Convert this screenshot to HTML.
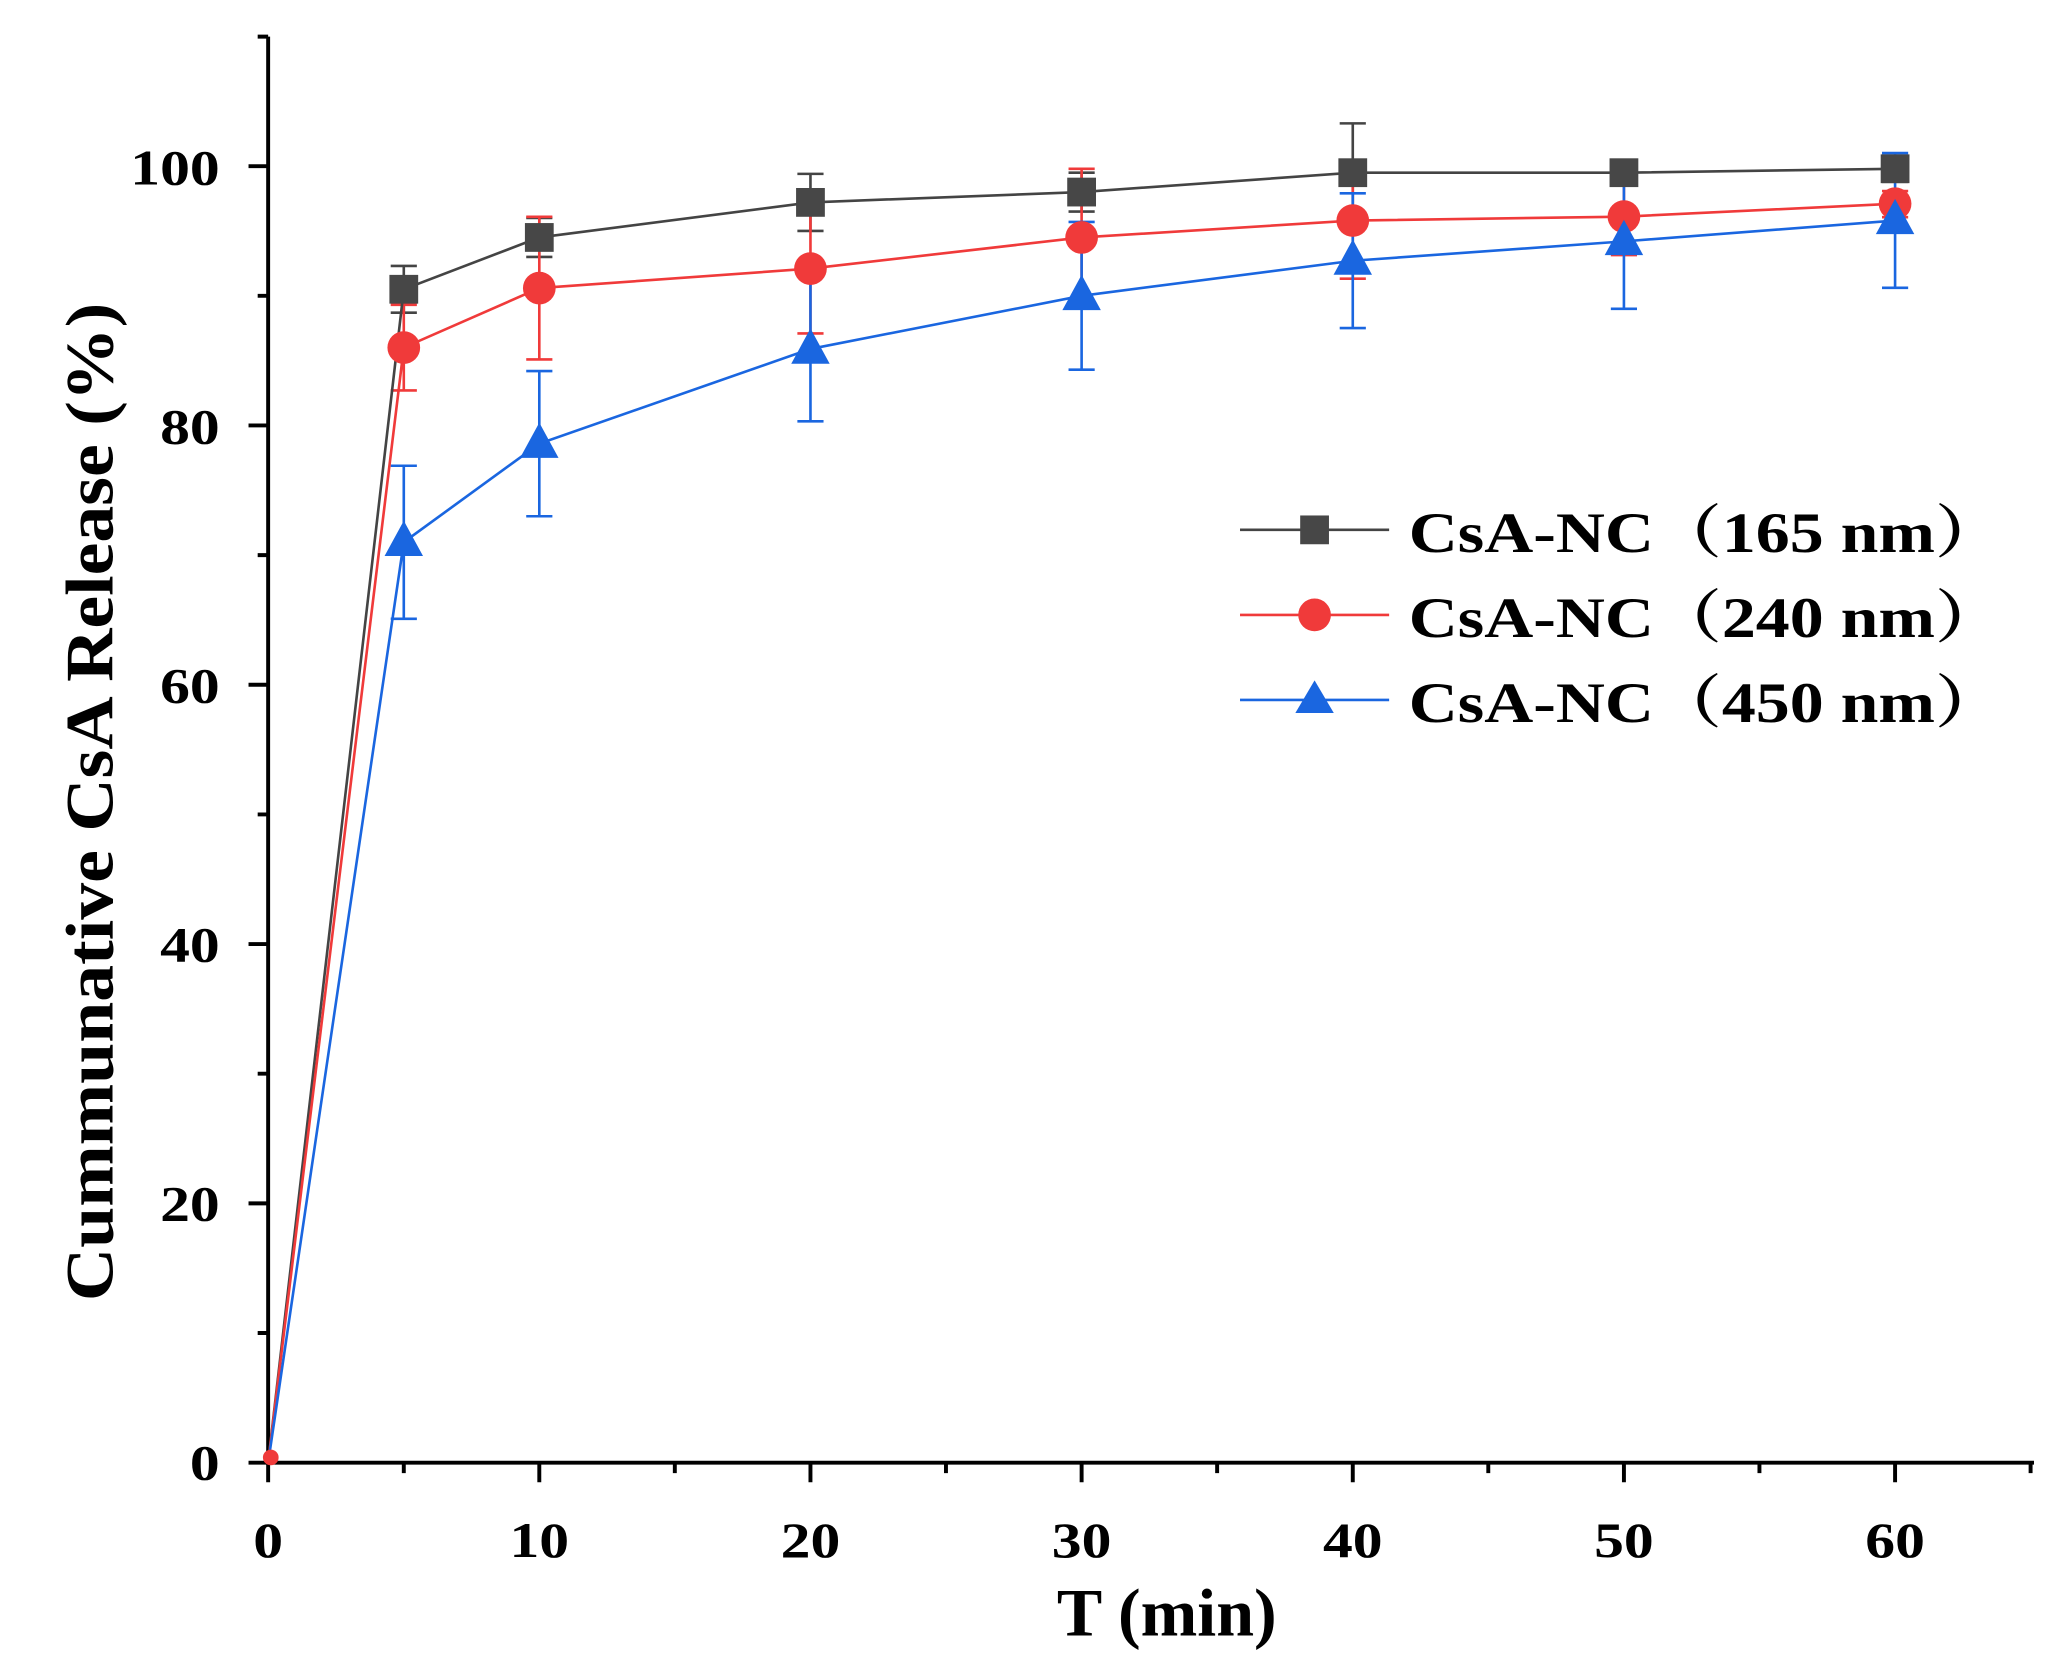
<!DOCTYPE html>
<html><head><meta charset="utf-8"><style>
html,body{margin:0;padding:0;background:#fff}
svg{display:block}
text{font-family:"Liberation Serif","Noto Serif CJK SC",serif;font-weight:bold;fill:#000}
</style></head><body>
<svg width="2051" height="1672" viewBox="0 0 1568 1278" preserveAspectRatio="none" xmlns="http://www.w3.org/2000/svg">
<rect width="1568" height="1278" fill="#fff"/>
<g stroke="#000" stroke-width="3" fill="none">
<path d="M205,28 V1118 H1555"/>
<path d="M190,1118H205M190,919.8H205M190,721.6H205M190,523.4H205M190,325.2H205M190,127H205"/>
<path d="M197,1018.9H205M197,820.7H205M197,622.5H205M197,424.3H205M197,226.1H205M197,28H205"/>
<path d="M205,1118V1133M412.3,1118V1133M619.6,1118V1133M826.9,1118V1133M1034.2,1118V1133M1241.5,1118V1133M1448.8,1118V1133"/>
<path d="M308.7,1118V1126M515.9,1118V1126M723.2,1118V1126M930.5,1118V1126M1137.8,1118V1126M1345.1,1118V1126M1552.4,1118V1126"/>
</g>
<g font-size="38" text-anchor="end">
<text transform="matrix(1.2,0,0,1,168,1131)">0</text>
<text transform="matrix(1.2,0,0,1,168,933)">20</text>
<text transform="matrix(1.2,0,0,1,168,735)">40</text>
<text transform="matrix(1.2,0,0,1,168,537)">60</text>
<text transform="matrix(1.2,0,0,1,168,339)">80</text>
<text transform="matrix(1.2,0,0,1,168,141)">100</text>
</g>
<g font-size="38" text-anchor="middle">
<text transform="matrix(1.2,0,0,1,205,1190)">0</text>
<text transform="matrix(1.2,0,0,1,412.3,1190)">10</text>
<text transform="matrix(1.2,0,0,1,619.6,1190)">20</text>
<text transform="matrix(1.2,0,0,1,826.9,1190)">30</text>
<text transform="matrix(1.2,0,0,1,1034.2,1190)">40</text>
<text transform="matrix(1.2,0,0,1,1241.5,1190)">50</text>
<text transform="matrix(1.2,0,0,1,1448.8,1190)">60</text>
</g>
<text x="892" y="1250" font-size="52" text-anchor="middle">T (min)</text>
<text transform="translate(86,613) rotate(-90) scale(1.085,1)" font-size="52" text-anchor="middle">Cummunative CsA Release (%)</text>

<g stroke="#444" stroke-width="2" fill="none">
<path d="M308.7,203.3V239M298.7,203.3H318.7M298.7,239H318.7"/>
<path d="M412.3,166.6V196.4M402.3,166.6H422.3M402.3,196.4H422.3"/>
<path d="M619.6,132.9V176.5M609.6,132.9H629.6M609.6,176.5H629.6"/>
<path d="M826.9,132V161.7M816.9,132H836.9M816.9,161.7H836.9"/>
<path d="M1034.2,94.3V169.6M1024.2,94.3H1044.2M1024.2,169.6H1044.2"/>
<path d="M1241.5,124V140M1231.5,124H1251.5M1231.5,140H1251.5"/>
<path d="M1448.8,119V139M1438.8,119H1458.8M1438.8,139H1458.8"/>
</g>
<g stroke="#f03a3a" stroke-width="2" fill="none">
<path d="M308.7,233V298.4M298.7,233H318.7M298.7,298.4H318.7"/>
<path d="M412.3,165.7V274.7M402.3,165.7H422.3M402.3,274.7H422.3"/>
<path d="M619.6,155.8V254.9M609.6,155.8H629.6M609.6,254.9H629.6"/>
<path d="M826.9,129V234M816.9,129H836.9M816.9,234H836.9"/>
<path d="M1034.2,124V213M1024.2,124H1044.2M1024.2,213H1044.2"/>
<path d="M1241.5,136V195M1231.5,136H1251.5M1231.5,195H1251.5"/>
<path d="M1448.8,146V166M1438.8,146H1458.8M1438.8,166H1458.8"/>
</g>
<g stroke="#1a66e0" stroke-width="2" fill="none">
<path d="M308.7,356V473M298.7,356H318.7M298.7,473H318.7"/>
<path d="M412.3,283.6V394.6M402.3,283.6H422.3M402.3,394.6H422.3"/>
<path d="M619.6,211V322M609.6,211H629.6M609.6,322H629.6"/>
<path d="M826.9,169.6V282.6M816.9,169.6H836.9M816.9,282.6H836.9"/>
<path d="M1034.2,147.8V250.8M1024.2,147.8H1044.2M1024.2,250.8H1044.2"/>
<path d="M1241.5,133V236M1231.5,133H1251.5M1231.5,236H1251.5"/>
<path d="M1448.8,117V220M1438.8,117H1458.8M1438.8,220H1458.8"/>
</g>

<polyline fill="none" stroke="#444" stroke-width="2" points="205,1118 308.7,221.1 412.3,181.5 619.6,154.7 826.9,146.8 1034.2,132 1241.5,132 1448.8,129"/>
<polyline fill="none" stroke="#f03a3a" stroke-width="2" points="205,1118 308.7,265.7 412.3,220.2 619.6,205.3 826.9,181.5 1034.2,168.6 1241.5,165.6 1448.8,155.7"/>
<polyline fill="none" stroke="#1a66e0" stroke-width="2" points="205,1118 308.7,414.4 412.3,339.1 619.6,266.7 826.9,226.1 1034.2,199.3 1241.5,184.5 1448.8,168.6"/>

<g fill="#474747">
<rect x="297.7" y="210.1" width="22" height="22"/><rect x="401.3" y="170.5" width="22" height="22"/>
<rect x="608.6" y="143.7" width="22" height="22"/><rect x="815.9" y="135.8" width="22" height="22"/>
<rect x="1023.2" y="121" width="22" height="22"/><rect x="1230.5" y="121" width="22" height="22"/>
<rect x="1437.8" y="118" width="22" height="22"/>
</g>
<g fill="#f03a3a">
<circle cx="207" cy="1114" r="6"/>
<circle cx="308.7" cy="265.7" r="12.5"/><circle cx="412.3" cy="220.2" r="12.5"/><circle cx="619.6" cy="205.3" r="12.5"/>
<circle cx="826.9" cy="181.5" r="12.5"/><circle cx="1034.2" cy="168.6" r="12.5"/><circle cx="1241.5" cy="165.6" r="12.5"/>
<circle cx="1448.8" cy="155.7" r="12.5"/>
</g>
<g fill="#1a66e0">
<polygon points="308.7,398 294,425 323.4,425"/><polygon points="412.3,323 397.6,350 427,350"/>
<polygon points="619.6,251 604.9,278 634.3,278"/><polygon points="826.9,210 812.2,237 841.6,237"/>
<polygon points="1034.2,183 1019.5,210 1048.9,210"/><polygon points="1241.5,168 1226.8,195 1256.2,195"/>
<polygon points="1448.8,152 1434.1,179 1463.5,179"/>
</g>

<line x1="948" y1="405" x2="1062" y2="405" stroke="#444" stroke-width="2"/>
<rect x="994" y="394" width="22" height="22" fill="#474747"/>
<line x1="948" y1="470" x2="1062" y2="470" stroke="#f03a3a" stroke-width="2"/>
<circle cx="1005" cy="470" r="12.5" fill="#f03a3a"/>
<line x1="948" y1="535" x2="1062" y2="535" stroke="#1a66e0" stroke-width="2"/>
<polygon points="1005,520 990.3,545 1019.7,545" fill="#1a66e0"/>
<g font-size="44">
<text transform="matrix(1.18,0,0,1,1077,422)">CsA-NC（165 nm）</text>
<text transform="matrix(1.18,0,0,1,1077,487)">CsA-NC（240 nm）</text>
<text transform="matrix(1.18,0,0,1,1077,552)">CsA-NC（450 nm）</text>
</g>
</svg>
</body></html>
